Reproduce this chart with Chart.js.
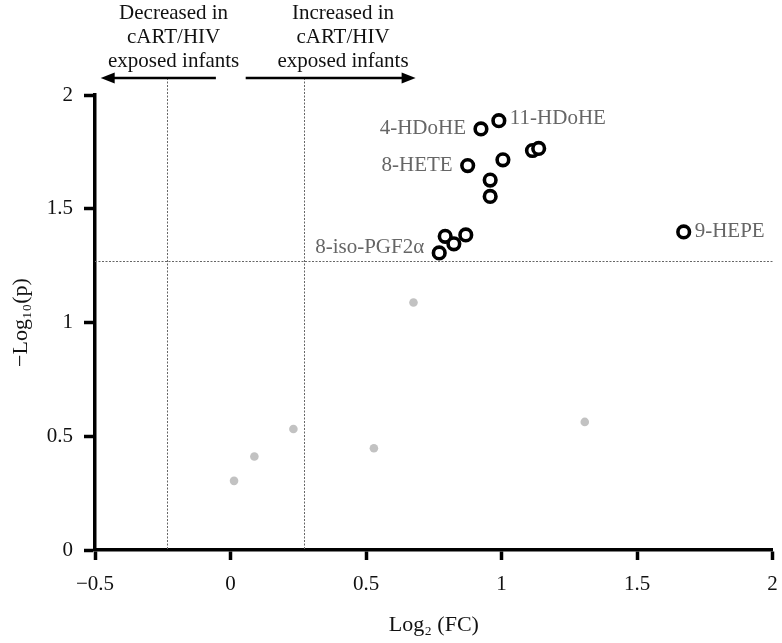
<!DOCTYPE html>
<html>
<head>
<meta charset="utf-8">
<script src="https://cdn.jsdelivr.net/npm/chart.js@4"></script>
<style>
  html, body { margin: 0; padding: 0; background: #fff; }
  #wrap { width: 782px; height: 643px; }
</style>
</head>
<body>
<div id="wrap"><canvas id="c" width="782" height="643"></canvas></div>
<script>
// ---- Data ----
const sigX = [0.924, 0.990, 1.114, 1.137, 0.875, 1.005, 0.958, 0.958, 1.672, 0.792, 0.824, 0.868, 0.770];
const sigY = [1.851, 1.887, 1.756, 1.765, 1.690, 1.715, 1.626, 1.554, 1.398, 1.379, 1.346, 1.385, 1.306];
const sigNames = ['4-HDoHE', '11-HDoHE', '', '', '8-HETE', '', '', '', '9-HEPE', '', '', '', '8-iso-PGF2α'];
const labelSide = ['left', 'right', '', '', 'left', '', '', '', 'right', '', '', '', 'left'];

const nsX = [0.013, 0.088, 0.232, 0.529, 0.675, 1.307];
const nsY = [0.304, 0.411, 0.532, 0.447, 1.088, 0.563];

const xTicks = [-0.5, 0, 0.5, 1, 1.5, 2];
const yTicks = [0, 0.5, 1, 1.5, 2];
const fcCutoffs = [-0.233, 0.272];
const pCutoff = 1.272;

const leftNote = ['Decreased in', 'cART/HIV', 'exposed infants'];
const rightNote = ['Increased in', 'cART/HIV', 'exposed infants'];

const FONT = '"Liberation Serif", "DejaVu Serif", serif';

const toPts = (xs, ys) => xs.map((x, i) => ({x: x, y: ys[i]}));

const overlay = {
  id: 'overlay',
  beforeDatasetsDraw(chart) {
    const {ctx, chartArea} = chart;
    const xs = chart.scales.x, ys = chart.scales.y;
    ctx.save();
    ctx.strokeStyle = '#666';
    ctx.lineWidth = 1;
    ctx.setLineDash([2, 1.5]);
    fcCutoffs.forEach(v => {
      const px = Math.round(xs.getPixelForValue(v)) + 0.5;
      ctx.beginPath();
      ctx.moveTo(px, chartArea.top - 17);
      ctx.lineTo(px, chartArea.bottom);
      ctx.stroke();
    });
    const py = Math.round(ys.getPixelForValue(pCutoff)) + 0.5;
    ctx.beginPath();
    ctx.moveTo(chartArea.left, py);
    ctx.lineTo(chartArea.right, py);
    ctx.stroke();
    ctx.restore();
  },
  afterDatasetsDraw(chart) {
    const {ctx, chartArea} = chart;
    const xs = chart.scales.x;
    ctx.save();
    // top notes
    ctx.fillStyle = '#111';
    ctx.font = '21px ' + FONT;
    ctx.textAlign = 'center';
    ctx.textBaseline = 'middle';
    const noteY = [13, 37, 61];
    leftNote.forEach((t, i) => ctx.fillText(t, xs.getPixelForValue(-0.21), noteY[i]));
    rightNote.forEach((t, i) => ctx.fillText(t, xs.getPixelForValue(0.415), noteY[i]));
    // arrows
    const ay = chartArea.top - 17;
    const arrow = (x0, x1) => {
      const dir = Math.sign(x1 - x0);
      ctx.strokeStyle = '#000';
      ctx.fillStyle = '#000';
      ctx.lineWidth = 2.5;
      ctx.beginPath();
      ctx.moveTo(x0, ay);
      ctx.lineTo(x1 - dir * 10, ay);
      ctx.stroke();
      ctx.beginPath();
      ctx.moveTo(x1, ay);
      ctx.lineTo(x1 - dir * 14, ay - 5.5);
      ctx.lineTo(x1 - dir * 14, ay + 5.5);
      ctx.closePath();
      ctx.fill();
    };
    arrow(xs.getPixelForValue(-0.054), xs.getPixelForValue(-0.479));
    arrow(xs.getPixelForValue(0.056), xs.getPixelForValue(0.683));
    // point labels
    const meta = chart.getDatasetMeta(0);
    ctx.fillStyle = '#666';
    ctx.font = '21px ' + FONT;
    ctx.textBaseline = 'middle';
    sigNames.forEach((name, i) => {
      if (!name) return;
      const el = meta.data[i];
      const dy = name.startsWith('8-iso') ? -5 : (name.startsWith('11') ? -2 : 0);
      if (labelSide[i] === 'left') {
        ctx.textAlign = 'right';
        ctx.fillText(name, el.x - 15, el.y + dy);
      } else {
        ctx.textAlign = 'left';
        ctx.fillText(name, el.x + 11, el.y + dy);
      }
    });
    ctx.restore();
  }
};

new Chart(document.getElementById('c'), {
  type: 'scatter',
  data: {
    datasets: [
      {
        data: toPts(sigX, sigY),
        pointRadius: 5.8,
        pointHoverRadius: 5.8,
        pointBorderWidth: 3.6,
        pointBorderColor: '#000',
        pointBackgroundColor: '#fff'
      },
      {
        data: toPts(nsX, nsY),
        pointRadius: 4.3,
        pointHoverRadius: 4.3,
        pointBorderWidth: 0,
        pointBackgroundColor: '#c2c2c2'
      }
    ]
  },
  options: {
    responsive: false,
    animation: false,
    layout: { padding: { top: 95, right: 3, left: 0, bottom: 0 } },
    plugins: { legend: { display: false }, tooltip: { enabled: false } },
    scales: {
      x: {
        type: 'linear',
        min: -0.5, max: 2,
        afterFit(s) { s.height = 93; s.paddingRight = 0; s.paddingLeft = 0; },
        afterBuildTicks(s) { s.ticks = xTicks.map(v => ({value: v})); },
        border: { display: true, width: 3.5, color: '#000' },
        grid: { drawOnChartArea: false, drawTicks: true, tickLength: 10, tickWidth: 3.5, tickColor: '#000' },
        ticks: {
          color: '#111', font: { family: FONT, size: 21 }, padding: 12,
          maxRotation: 0, autoSkip: false,
          callback: v => String(v).replace('-', '\u2212')
        },
        title: { display: true, text: 'Log\u2082 (FC)', color: '#111', font: { family: FONT, size: 22 }, padding: { top: 0, bottom: 5 } }
      },
      y: {
        type: 'linear',
        min: 0, max: 2,
        afterFit(s) { s.width = 95; s.paddingTop = 0; s.paddingBottom = 0; },
        afterBuildTicks(s) { s.ticks = yTicks.map(v => ({value: v})); },
        border: { display: true, width: 3.5, color: '#000' },
        grid: { drawOnChartArea: false, drawTicks: true, tickLength: 11, tickWidth: 3.5, tickColor: '#000' },
        ticks: {
          color: '#111', font: { family: FONT, size: 21 }, padding: 11,
          callback: v => String(v)
        },
        title: { display: true, text: '\u2212Log\u2081\u2080(p)', color: '#111', font: { family: FONT, size: 22 }, padding: { top: 8, bottom: 0 } }
      }
    }
  },
  plugins: [overlay]
});
</script>
</body>
</html>
